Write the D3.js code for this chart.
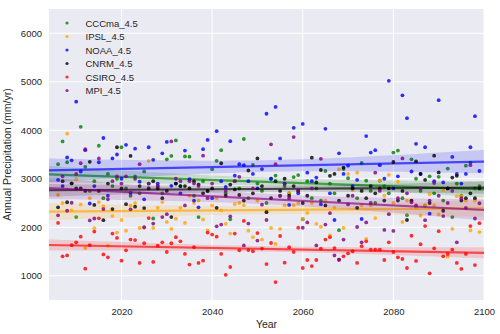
<!DOCTYPE html>
<html>
<head>
<meta charset="utf-8">
<script src="https://cdn.jsdelivr.net/npm/d3@7/dist/d3.min.js"></script>
<style>
  body { margin: 0; background: #fff; }
  text { font-family: "Liberation Sans", Arial, sans-serif; fill: #262626; }
</style>
</head>
<body>
<svg id="chart" width="500" height="334"></svg>
<script>
// years 2006..2099, one value per year for each model
const YEARS = d3.range(2006, 2100)

const CCCMA = [
  3300, 3770, 3340, 2900,
  2210, 4070, 3245, 2750, 2950, 3680, 2600, 3100, 2850, 3000,
  3650, 2800, 2650, 3050, 2700, 3150, 2900, 2180, 2850, 2700,
  3400, 3470, 3790, 2850, 3460, 3455, 2650, 2210, 2950, 2750,
  3195, 3370, 3590, 2700, 2165, 2950, 2800, 3820, 2600, 3285,
  2900, 2750, 2500, 3000, 3065, 2650, 2850, 2700, 3035, 3075,
  2165, 2950, 2600, 2800, 2550, 3160, 2900, 2700, 1940, 3200,
  3010, 2800, 2600, 3325, 2960, 2750, 2500, 2960, 2850, 2700,
  3540, 3580, 2600, 2250, 3400, 3000, 2750, 2450, 3050, 2700,
  3040, 2550, 3210, 2210, 2900, 2650, 3270, 3330, 2800, 2850,
]
const IPSL = [
  2665, 2500, 3930, 2350,
  2990, 2470, 1570, 2600, 1980, 2520, 2430, 1620, 2230, 1890,
  2150, 1930, 2450, 2500, 1985, 1990, 3370, 1985, 2400, 2520,
  2110, 1965, 2175, 2400, 2090, 2650, 2500, 2550, 2160, 1935,
  2450, 2600, 2350, 2070, 1870, 2475, 2500, 2455, 1930, 1795,
  2550, 1745, 2330, 1985, 1655, 1965, 2450, 2710, 2450, 2500,
  2170, 2295, 2500, 2070, 2010, 2550, 1830, 2400, 3195, 1985,
  3100, 2770, 3125, 2450, 1760, 2450, 2190, 2965, 2650, 3080,
  2500, 2940, 2110, 2550, 2550, 2400, 2240, 2450, 2680, 2450,
  2265, 2770, 1390, 1965, 2640, 2640, 2550, 1935, 2550, 1900,
]
const NOAA = [
  2975, 2850, 3440, 3380,
  4590, 3150, 3590, 2490, 2850, 3340, 3840, 2650, 3420, 3500,
  3000, 3700, 2710, 3620, 2940, 2575, 3650, 3390, 2900, 3525,
  3760, 2855, 2900, 2700, 3580, 2990, 2550, 2410, 3610, 3800,
  2600, 3980, 2950, 2830, 3775, 3065, 3300, 3280, 2950, 3100,
  2800, 3200, 4340, 3000, 4480, 3420, 2900, 2460, 4050, 2700,
  4130, 3125, 2950, 3025, 2475, 4030, 2700, 2150, 3525, 3100,
  3270, 2850, 2975, 2170, 3880, 3540, 3590, 3280, 3000, 5020,
  2800, 3050, 4720, 4250, 3150, 3720, 3100, 3650, 2280, 2950,
  4620, 2925, 2800, 3450, 3100, 2900, 3100, 3650, 4290, 3160,
]
const CNRM = [
  2410, 2950, 2515, 2905,
  2800, 2800, 2750, 3350, 2460, 2750, 2145, 2900, 2375, 3650,
  2800, 2475, 3470, 2425, 2850, 2395, 2800, 2950, 2800, 2600,
  2750, 2210, 2900, 2850, 2850, 2800, 2950, 2880, 2700, 2750,
  2800, 2400, 3320, 2650, 2880, 2780, 2665, 2550, 3170, 2700,
  3420, 2850, 2310, 2600, 2950, 2750, 3000, 2650, 2850, 2750,
  2500, 2650, 3435, 2925, 3180, 2450, 3060, 3100, 2550, 3230,
  2650, 2800, 2400, 2750, 2600, 2850, 2700, 2800, 2550, 2800,
  3345, 2550, 2750, 2150, 2550, 3360, 3100, 2975, 2500, 3475,
  3130, 2340, 2800, 3025, 3060, 2550, 2600, 2700, 2600, 2800,
]
const CSIRO = [
  2090, 1400, 1420, 1630,
  1690, 1805, 1145, 1630, 1910, 2185, 1440, 1380, 1870, 1780,
  1310, 1525, 1745, 1735, 1265, 1670, 2190, 1285, 1620, 1690,
  1490, 1670, 1795, 1710, 1450, 1230, 1590, 1265, 1310, 1890,
  1850, 1805, 1450, 1020, 1180, 1870, 1525, 2130, 1530, 1505,
  1880, 1560, 1240, 1675, 870, 1820, 1270, 1590, 1490, 1990,
  1160, 1325, 1200, 1325, 1560, 1745, 1795, 1570, 1330, 1400,
  1460, 1505, 1265, 1610, 1710, 1540, 1540, 1540, 1325, 1690,
  1490, 1380, 1345, 1160, 1825, 1305, 1650, 2025, 1050, 1565,
  1920, 1400, 1450, 1540, 1265, 1140, 1450, 2025, 1220, 2085,
]
const MPI = [
  2245, 3050, 2340, 2505,
  3100, 3320, 3610, 2140, 2180, 3420, 2375, 2575, 2950, 3050,
  2900, 3050, 2370, 3000, 3300, 2000, 2900, 2075, 2850, 2210,
  2270, 3770, 3000, 2950, 2450, 2950, 2900, 2850, 3475, 2600,
  2900, 2020, 2055, 2750, 2225, 2950, 3040, 1625, 2075, 2800,
  1725, 2465, 2150, 3710, 3300, 2650, 2900, 2600, 3860, 2750,
  1990, 2100, 2800, 1625, 3410, 2055, 2290, 1420, 1330, 1745,
  2470, 2650, 2005, 1690, 2100, 2500, 3125, 2750, 1945, 2270,
  1925, 2600, 3420, 2700, 2515, 2450, 2800, 2145, 2550, 2910,
  2650, 2230, 2500, 2750, 1690, 2600, 2400, 3280, 2180, 2495,
]

const SERIES_NAMES = ['CCCma_4.5', 'IPSL_4.5', 'NOAA_4.5', 'CNRM_4.5', 'CSIRO_4.5', 'MPI_4.5']
const SERIES_COLORS = ['#008000', '#ffa500', '#0000ff', '#000000', '#ff0000', '#800080']
const SERIES_VALUES = [CCCMA, IPSL, NOAA, CNRM, CSIRO, MPI]

const X_DOMAIN = [2004, 2100]
const Y_DOMAIN = [500, 6500]
const X_TICKS = [2020, 2040, 2060, 2080, 2100]
const Y_TICKS = [1000, 2000, 3000, 4000, 5000, 6000]

const margins = {top: 9, right: 16, bottom: 34, left: 49}
const W = 500, H = 334
const width = W - margins.left - margins.right
const height = H - margins.top - margins.bottom

const svg = d3.select('#chart')
const g = svg.append('g').attr('transform', `translate(${margins.left}, ${margins.top})`)

const x = d3.scaleLinear().domain(X_DOMAIN).range([0, width])
const y = d3.scaleLinear().domain(Y_DOMAIN).range([height, 0])

g.append('rect').attr('width', width).attr('height', height).attr('fill', '#eaeaf2')

// grid
g.append('g').selectAll('line').data(X_TICKS).enter().append('line')
  .attr('x1', (d) => x(d)).attr('x2', (d) => x(d))
  .attr('y1', 0).attr('y2', height)
  .attr('stroke', '#fff').attr('stroke-width', 1)
g.append('g').selectAll('line').data(Y_TICKS).enter().append('line')
  .attr('y1', (d) => y(d)).attr('y2', (d) => y(d))
  .attr('x1', 0).attr('x2', width)
  .attr('stroke', '#fff').attr('stroke-width', 1)

// axes (labels only, seaborn darkgrid style)
const xAxis = g.append('g')
  .attr('transform', `translate(0, ${height})`)
  .call(d3.axisBottom(x).tickValues(X_TICKS).tickFormat(d3.format('d')).tickSize(0).tickPadding(8))
const yAxis = g.append('g')
  .call(d3.axisLeft(y).tickValues(Y_TICKS).tickFormat(d3.format('d')).tickSize(0).tickPadding(7))
for (const ax of [xAxis, yAxis]) {
  ax.select('.domain').remove()
  ax.selectAll('text').attr('font-size', 9.5).attr('fill', '#262626')
    .attr('font-family', '"Liberation Sans", Arial, sans-serif')
}

g.append('text')
  .attr('x', width / 2).attr('y', height + 28)
  .attr('text-anchor', 'middle').attr('font-size', 10.5)
  .text('Year')
g.append('text')
  .attr('transform', `translate(${-38}, ${height / 2}) rotate(-90)`)
  .attr('text-anchor', 'middle').attr('font-size', 10.5)
  .text('Annual Precipitation (mm/yr)')

// ordinary least squares fit with 95% confidence band
function fitLine(xs, ys) {
  const n = xs.length
  const mx = d3.mean(xs), my = d3.mean(ys)
  let sxx = 0, sxy = 0
  xs.forEach((xv, i) => { sxx += (xv - mx) ** 2; sxy += (xv - mx) * (ys[i] - my) })
  const slope = sxy / sxx
  const icpt = my - slope * mx
  let sse = 0
  xs.forEach((xv, i) => { sse += (ys[i] - (icpt + slope * xv)) ** 2 })
  const s = Math.sqrt(sse / (n - 2))
  const t = 1.986
  return {
    at: (xv) => icpt + slope * xv,
    half: (xv) => t * s * Math.sqrt(1 / n + (xv - mx) ** 2 / sxx),
  }
}

svg.append('clipPath').attr('id', 'plot-clip')
  .append('rect').attr('width', width).attr('height', height)

const marks = g.append('g').attr('clip-path', 'url(#plot-clip)')
const bandXs = d3.range(X_DOMAIN[0], X_DOMAIN[1] + 0.5, 1)

// each model in turn: points, fit line, then its band
SERIES_VALUES.forEach((vals, si) => {
  const color = SERIES_COLORS[si]
  marks.append('g').selectAll('circle').data(vals).enter().append('circle')
    .attr('cx', (d, i) => x(YEARS[i]))
    .attr('cy', (d) => y(d))
    .attr('r', 1.9)
    .attr('fill', color)
    .attr('fill-opacity', 0.8)

  const fit = fitLine(YEARS, vals)
  marks.append('path')
    .datum(X_DOMAIN)
    .attr('d', d3.line().x((d) => x(d)).y((d) => y(fit.at(d))))
    .attr('stroke', color)
    .attr('stroke-width', 2.2)
    .attr('stroke-opacity', 0.65)
    .attr('fill', 'none')

  marks.append('path')
    .datum(bandXs)
    .attr('d', d3.area()
      .x((d) => x(d))
      .y0((d) => y(fit.at(d) - fit.half(d)))
      .y1((d) => y(fit.at(d) + fit.half(d))))
    .attr('fill', color)
    .attr('fill-opacity', 0.15)
})

// legend
const legend = g.append('g').attr('transform', 'translate(18, 14)')
SERIES_NAMES.forEach((name, i) => {
  const row = legend.append('g').attr('transform', `translate(0, ${i * 13.5})`)
  row.append('circle').attr('r', 1.6).attr('fill', SERIES_COLORS[i]).attr('fill-opacity', 0.8)
  row.append('text').attr('x', 18.5).attr('y', 3.5).attr('font-size', 9.5).text(name)
})
</script>
</body>
</html>
